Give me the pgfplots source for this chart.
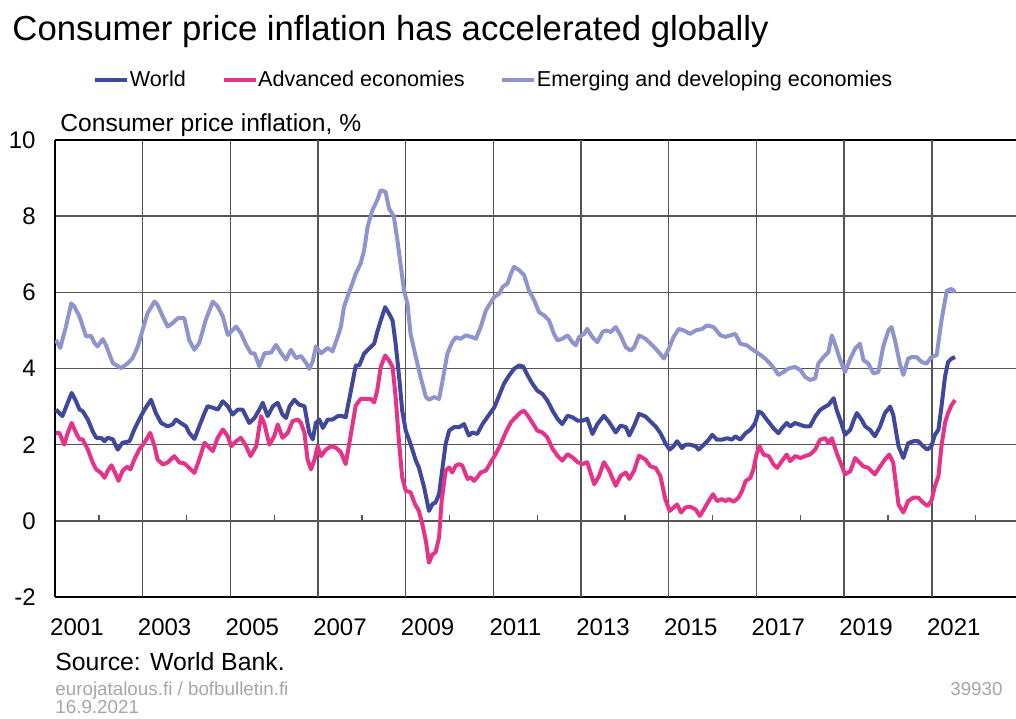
\documentclass[border=0pt]{standalone}
\usepackage{fontspec}
\setmainfont{Liberation Sans}
\usepackage{pgfplots}
\pgfplotsset{compat=1.18}
\definecolor{worldc}{RGB}{64,72,155}
\definecolor{advc}{RGB}{229,51,138}
\definecolor{emec}{RGB}{143,149,204}
\definecolor{gridc}{RGB}{85,85,85}
\definecolor{greyt}{RGB}{166,166,166}
\begin{document}
\begin{tikzpicture}
\useasboundingbox (0,0) rectangle (508pt,359pt);
% small year ticks on the zero line
\begin{axis}[at={(27.5pt,98.583pt)}, anchor=south west, scale only axis,
  width=480.5pt, height=190.417pt,
  xmin=2001, xmax=2022.92, ymin=0, ymax=10,
  hide y axis, axis x line*=bottom, axis line style={draw=none},
  xtick={2002,2004,...,2022}, xticklabels={},
  xtick align=inside, major tick length=3pt,
  every tick/.style={gridc, line width=0.7pt}]
\end{axis}
\begin{axis}[at={(27.5pt,60.5pt)}, anchor=south west, scale only axis,
  width=480.5pt, height=228.5pt,
  xmin=2001, xmax=2022.92, ymin=-2, ymax=10,
  axis x line*=box, axis y line*=left,
  axis line style={-, black, line width=1.1pt},
  ytick={-2,0,2,4,6,8,10}, ymajorgrids,
  xtick={2001.5,2003.5,2005.5,2007.5,2009.5,2011.5,2013.5,2015.5,2017.5,2019.5,2021.5},
  xticklabels={2001,2003,2005,2007,2009,2011,2013,2015,2017,2019,2021},
  extra x ticks={2003,2005,2007,2009,2011,2013,2015,2017,2019,2021},
  extra x tick labels={},
  extra x tick style={grid=major},
  major tick length=0pt,
  grid style={gridc, line width=0.7pt},
  /pgf/number format/assume math mode=true,
  tick label style={font=\fontsize{12}{14}\selectfont, inner sep=0pt},
  xticklabel style={anchor=base, yshift=-19pt},
  yticklabel style={anchor=east, xshift=-9.5pt},
  title={Consumer price inflation has accelerated globally},
  title style={at={(axis description cs:-0.0447,1.2188)}, anchor=base west, yshift=-6pt,
    font=\fontsize{17.35}{20}\selectfont, inner sep=0pt},
  ylabel={Consumer price inflation, \%},
  every axis y label/.style={at={(axis description cs:0.0052,1.0175)}, anchor=base west,
    font=\fontsize{12.3}{14}\selectfont, inner sep=0pt},
  legend columns=3,
  legend cell align=left,
  legend image code/.code={\draw[#1, line width=2pt] (0pt,0pt) -- (16pt,0pt);},
  legend style={at={(axis description cs:0.0395,1.131)}, anchor=west, draw=none, fill=none,
    font=\fontsize{10.8}{13}\selectfont, inner sep=0pt, nodes={inner sep=0.3pt},
    /tikz/every odd column/.append style={column sep=0pt},
    /tikz/every even column/.append style={column sep=17.5pt}},
  every axis plot/.append style={line width=2pt, line join=round},
]
\addplot[worldc] coordinates {
(2001.02,2.92)(2001.17,2.75)(2001.29,3.10)(2001.38,3.36)(2001.48,3.14)(2001.56,2.92)(2001.63,2.88)(2001.75,2.66)(2001.86,2.35)(2001.94,2.18)(2002.05,2.18)(2002.13,2.09)(2002.20,2.18)(2002.32,2.14)(2002.43,1.87)(2002.54,2.05)(2002.70,2.09)(2002.81,2.40)(2002.92,2.66)(2003.04,2.92)(2003.19,3.18)(2003.30,2.83)(2003.42,2.57)(2003.57,2.48)(2003.68,2.53)(2003.76,2.66)(2003.87,2.57)(2003.99,2.48)(2004.06,2.31)(2004.18,2.15)(2004.29,2.48)(2004.41,2.83)(2004.48,3.01)(2004.60,2.97)(2004.71,2.92)(2004.83,3.14)(2004.94,3.01)(2005.05,2.79)(2005.17,2.92)(2005.28,2.92)(2005.43,2.57)(2005.55,2.70)(2005.66,2.92)(2005.74,3.10)(2005.85,2.75)(2005.97,3.01)(2006.08,3.10)(2006.19,2.79)(2006.27,2.70)(2006.35,3.01)(2006.46,3.18)(2006.57,3.05)(2006.69,3.01)(2006.80,2.31)(2006.88,2.14)(2006.95,2.57)(2007.03,2.66)(2007.11,2.44)(2007.22,2.66)(2007.33,2.66)(2007.45,2.75)
(2007.52,2.76)(2007.63,2.72)(2007.75,3.42)(2007.86,4.08)(2007.94,4.08)(2008.05,4.39)(2008.16,4.52)(2008.28,4.65)(2008.35,4.96)(2008.43,5.26)(2008.53,5.61)(2008.62,5.44)(2008.70,5.26)(2008.77,4.65)(2008.85,3.77)(2008.92,2.89)(2009.00,2.37)(2009.11,2.02)(2009.23,1.58)(2009.30,1.40)(2009.42,0.88)(2009.53,0.26)(2009.61,0.44)(2009.68,0.48)(2009.76,0.70)(2009.84,1.40)(2009.91,2.02)(2009.99,2.37)(2010.10,2.46)(2010.22,2.46)(2010.33,2.54)(2010.44,2.24)(2010.52,2.32)(2010.63,2.28)(2010.75,2.54)(2010.86,2.72)(2011.02,2.98)(2011.13,3.29)(2011.24,3.60)(2011.36,3.82)(2011.47,3.99)(2011.59,4.08)(2011.68,4.05)(2011.78,3.82)(2011.89,3.60)(2012.00,3.42)(2012.12,3.33)(2012.23,3.16)(2012.35,2.89)(2012.46,2.68)(2012.57,2.54)(2012.69,2.76)(2012.80,2.72)(2012.92,2.63)(2013.03,2.63)(2013.14,2.68)(2013.26,2.28)(2013.37,2.54)(2013.52,2.76)(2013.64,2.59)(2013.79,2.32)(2013.90,2.50)(2014.02,2.46)(2014.10,2.24)(2014.21,2.50)(2014.32,2.81)
(2014.47,2.74)(2014.58,2.61)(2014.70,2.48)(2014.81,2.30)(2014.92,2.04)(2015.02,1.87)(2015.11,1.96)(2015.19,2.09)(2015.30,1.91)(2015.38,2.00)(2015.49,2.00)(2015.61,1.96)(2015.68,1.87)(2015.80,2.00)(2015.91,2.13)(2015.99,2.26)(2016.10,2.13)(2016.21,2.13)(2016.33,2.17)(2016.44,2.13)(2016.52,2.22)(2016.63,2.13)(2016.75,2.30)(2016.86,2.39)(2016.97,2.57)(2017.05,2.87)(2017.12,2.83)(2017.24,2.65)(2017.39,2.43)(2017.50,2.30)(2017.58,2.43)(2017.69,2.57)(2017.77,2.48)(2017.88,2.57)(2018.00,2.52)(2018.11,2.48)(2018.22,2.48)(2018.34,2.74)(2018.45,2.91)(2018.57,3.00)(2018.64,3.04)(2018.76,3.22)(2018.83,2.91)(2018.91,2.65)(2019.02,2.26)(2019.14,2.39)(2019.22,2.65)(2019.29,2.83)(2019.40,2.65)(2019.48,2.48)(2019.59,2.39)(2019.70,2.22)(2019.82,2.48)(2019.93,2.83)(2020.05,3.00)(2020.12,2.78)(2020.24,1.96)(2020.35,1.65)(2020.46,2.04)(2020.58,2.09)(2020.69,2.09)(2020.80,1.96)(2020.90,1.87)(2020.99,1.96)(2021.07,2.26)(2021.15,2.39)(2021.22,3.00)(2021.30,3.78)(2021.37,4.17)(2021.45,4.26)(2021.53,4.30)
};
\addlegendentry{World}
\addplot[advc] coordinates {
(2001.02,2.31)(2001.10,2.31)(2001.21,2.00)(2001.29,2.31)(2001.38,2.57)(2001.48,2.31)(2001.56,2.14)(2001.63,2.14)(2001.75,1.87)(2001.86,1.53)(2001.94,1.35)(2002.05,1.26)(2002.13,1.13)(2002.20,1.31)(2002.29,1.46)(2002.37,1.26)(2002.45,1.05)(2002.54,1.31)(2002.64,1.42)(2002.72,1.35)(2002.81,1.61)(2002.92,1.87)(2003.04,2.05)(2003.17,2.31)(2003.27,1.96)(2003.34,1.61)(2003.46,1.48)(2003.57,1.53)(2003.72,1.70)(2003.84,1.53)(2003.95,1.51)(2004.06,1.39)(2004.18,1.26)(2004.29,1.61)(2004.41,2.05)(2004.52,1.92)(2004.60,1.83)(2004.71,2.18)(2004.83,2.40)(2004.94,2.22)(2005.02,1.96)(2005.13,2.09)(2005.24,2.18)(2005.36,1.96)(2005.46,1.70)(2005.59,1.96)(2005.70,2.75)(2005.78,2.53)(2005.89,2.00)(2006.00,2.22)(2006.08,2.53)(2006.19,2.18)(2006.31,2.31)(2006.42,2.62)(2006.54,2.66)(2006.61,2.57)(2006.69,2.31)(2006.76,1.61)(2006.84,1.35)(2006.92,1.61)(2006.99,1.96)(2007.07,1.70)(2007.18,1.87)(2007.30,1.96)(2007.41,1.92)
(2007.52,1.80)(2007.63,1.49)(2007.75,2.28)(2007.86,3.03)(2007.97,3.20)(2008.09,3.20)(2008.20,3.20)(2008.28,3.11)(2008.35,3.42)(2008.43,4.04)(2008.53,4.34)(2008.62,4.21)(2008.70,4.04)(2008.77,3.25)(2008.85,2.02)(2008.92,1.14)(2009.00,0.79)(2009.11,0.75)(2009.21,0.44)(2009.30,0.26)(2009.38,-0.09)(2009.46,-0.53)(2009.53,-1.10)(2009.61,-0.88)(2009.68,-0.83)(2009.76,-0.44)(2009.82,0.53)(2009.91,1.32)(2009.99,1.40)(2010.06,1.27)(2010.14,1.45)(2010.22,1.49)(2010.29,1.45)(2010.41,1.10)(2010.48,1.14)(2010.56,1.05)(2010.63,1.14)(2010.71,1.27)(2010.83,1.32)(2010.94,1.54)(2011.05,1.75)(2011.17,2.02)(2011.28,2.32)(2011.40,2.59)(2011.51,2.72)(2011.62,2.85)(2011.70,2.89)(2011.81,2.72)(2011.93,2.50)(2012.00,2.37)(2012.12,2.32)(2012.23,2.19)(2012.35,1.89)(2012.46,1.71)(2012.57,1.58)(2012.69,1.75)(2012.80,1.67)(2012.92,1.54)(2013.03,1.49)(2013.14,1.54)(2013.30,0.96)(2013.41,1.18)(2013.52,1.54)(2013.64,1.32)(2013.79,0.92)(2013.90,1.18)(2014.02,1.27)(2014.10,1.10)(2014.21,1.32)(2014.32,1.71)
(2014.47,1.61)(2014.58,1.43)(2014.70,1.39)(2014.81,1.17)(2014.92,0.57)(2015.02,0.26)(2015.11,0.35)(2015.19,0.43)(2015.28,0.22)(2015.38,0.35)(2015.49,0.37)(2015.61,0.30)(2015.71,0.13)(2015.80,0.30)(2015.91,0.52)(2016.01,0.70)(2016.10,0.52)(2016.21,0.57)(2016.29,0.52)(2016.37,0.57)(2016.48,0.50)(2016.59,0.61)(2016.67,0.78)(2016.75,1.04)(2016.86,1.13)(2016.93,1.35)(2017.00,1.74)(2017.07,1.96)(2017.16,1.74)(2017.28,1.70)(2017.39,1.48)(2017.47,1.39)(2017.58,1.57)(2017.69,1.74)(2017.77,1.57)(2017.88,1.70)(2018.00,1.65)(2018.11,1.70)(2018.22,1.74)(2018.34,1.87)(2018.45,2.13)(2018.57,2.17)(2018.64,2.04)(2018.72,2.17)(2018.83,1.78)(2018.95,1.43)(2019.02,1.22)(2019.14,1.30)(2019.25,1.65)(2019.36,1.52)(2019.44,1.43)(2019.55,1.39)(2019.70,1.22)(2019.82,1.43)(2019.93,1.61)(2020.03,1.74)(2020.12,1.52)(2020.24,0.43)(2020.35,0.22)(2020.46,0.52)(2020.58,0.61)(2020.69,0.61)(2020.80,0.48)(2020.90,0.39)(2020.99,0.52)(2021.07,0.91)(2021.15,1.17)(2021.22,1.96)(2021.30,2.57)(2021.37,2.83)(2021.45,3.04)(2021.53,3.17)
};
\addlegendentry{Advanced economies}
\addplot[emec] coordinates {
(2001.02,4.75)(2001.12,4.54)(2001.25,5.10)(2001.37,5.71)(2001.44,5.63)(2001.56,5.36)(2001.71,4.84)(2001.82,4.86)(2001.90,4.67)(2001.97,4.58)(2002.09,4.77)(2002.16,4.62)(2002.32,4.14)(2002.51,4.01)(2002.66,4.14)(2002.77,4.27)(2002.89,4.58)(2003.00,5.02)(2003.11,5.45)(2003.27,5.76)(2003.34,5.67)(2003.46,5.36)(2003.57,5.10)(2003.68,5.19)(2003.80,5.32)(2003.95,5.32)(2004.06,4.75)(2004.18,4.49)(2004.29,4.67)(2004.44,5.28)(2004.60,5.76)(2004.71,5.63)(2004.83,5.36)(2004.94,4.88)(2005.02,4.97)(2005.13,5.10)(2005.24,4.93)(2005.36,4.62)(2005.47,4.40)(2005.55,4.40)(2005.66,4.06)(2005.78,4.40)(2005.93,4.42)(2006.04,4.62)(2006.16,4.40)(2006.27,4.23)(2006.38,4.49)(2006.50,4.27)(2006.61,4.33)(2006.73,4.14)(2006.80,3.99)(2006.88,4.19)(2006.95,4.58)(2007.07,4.40)(2007.22,4.54)(2007.33,4.45)(2007.45,4.84)
(2007.52,5.09)(2007.59,5.61)(2007.67,5.88)(2007.78,6.23)(2007.86,6.49)(2007.97,6.75)(2008.05,7.10)(2008.13,7.72)(2008.24,8.16)(2008.35,8.42)(2008.43,8.68)(2008.54,8.64)(2008.62,8.20)(2008.73,7.98)(2008.81,7.37)(2008.89,6.67)(2008.96,6.05)(2009.04,5.70)(2009.11,4.91)(2009.23,4.30)(2009.34,3.77)(2009.46,3.25)(2009.53,3.18)(2009.65,3.25)(2009.76,3.20)(2009.84,3.68)(2009.95,4.39)(2010.06,4.69)(2010.14,4.82)(2010.25,4.78)(2010.37,4.87)(2010.52,4.82)(2010.60,4.78)(2010.71,5.09)(2010.83,5.53)(2010.90,5.66)(2011.02,5.88)(2011.13,5.96)(2011.21,6.14)(2011.32,6.23)(2011.40,6.49)(2011.47,6.67)(2011.59,6.58)(2011.70,6.45)(2011.81,6.05)(2011.93,5.79)(2012.04,5.48)(2012.16,5.39)(2012.27,5.26)(2012.38,4.91)(2012.46,4.74)(2012.57,4.78)(2012.69,4.87)(2012.80,4.69)(2012.88,4.61)(2012.95,4.82)(2013.07,4.91)(2013.14,5.04)(2013.26,4.82)(2013.37,4.69)(2013.49,4.96)(2013.56,5.00)(2013.68,4.96)(2013.79,5.09)(2013.90,4.87)(2014.02,4.56)(2014.13,4.47)(2014.21,4.56)(2014.32,4.87)
(2014.47,4.78)(2014.66,4.57)(2014.77,4.43)(2014.89,4.26)(2015.00,4.52)(2015.11,4.83)(2015.23,5.04)(2015.34,5.00)(2015.49,4.91)(2015.61,5.00)(2015.76,5.04)(2015.87,5.13)(2016.02,5.09)(2016.18,4.87)(2016.29,4.83)(2016.40,4.87)(2016.52,4.91)(2016.63,4.65)(2016.78,4.61)(2016.93,4.48)(2017.05,4.39)(2017.20,4.26)(2017.31,4.13)(2017.43,3.96)(2017.50,3.83)(2017.62,3.91)(2017.73,4.00)(2017.88,4.04)(2018.00,3.96)(2018.11,3.78)(2018.22,3.70)(2018.34,3.74)(2018.41,4.13)(2018.53,4.30)(2018.64,4.43)(2018.72,4.87)(2018.79,4.65)(2018.91,4.22)(2019.02,3.91)(2019.14,4.26)(2019.25,4.52)(2019.36,4.65)(2019.44,4.22)(2019.55,4.13)(2019.67,3.87)(2019.78,3.91)(2019.89,4.57)(2020.01,5.00)(2020.08,5.09)(2020.16,4.74)(2020.27,4.13)(2020.35,3.83)(2020.46,4.26)(2020.54,4.30)(2020.65,4.30)(2020.77,4.17)(2020.88,4.13)(2020.99,4.30)(2021.11,4.35)(2021.22,5.26)(2021.34,6.04)(2021.45,6.09)(2021.53,6.00)
};
\addlegendentry{Emerging and developing economies}
\end{axis}
\node[anchor=base west, font=\fontsize{12.4}{14}\selectfont, inner sep=0pt] at (27.5pt,24pt) {Source: World Bank.};
\node[anchor=base west, font=\fontsize{9.4}{11}\selectfont, text=greyt, inner sep=0pt] at (27.5pt,11.5pt) {eurojatalous.fi / bofbulletin.fi};
\node[anchor=base west, font=\fontsize{9.4}{11}\selectfont, text=greyt, inner sep=0pt] at (27.5pt,2.5pt) {16.9.2021};
\node[anchor=base east, font=\fontsize{9.4}{11}\selectfont, text=greyt, inner sep=0pt] at (501.5pt,11.5pt) {39930};
\end{tikzpicture}
\end{document}
